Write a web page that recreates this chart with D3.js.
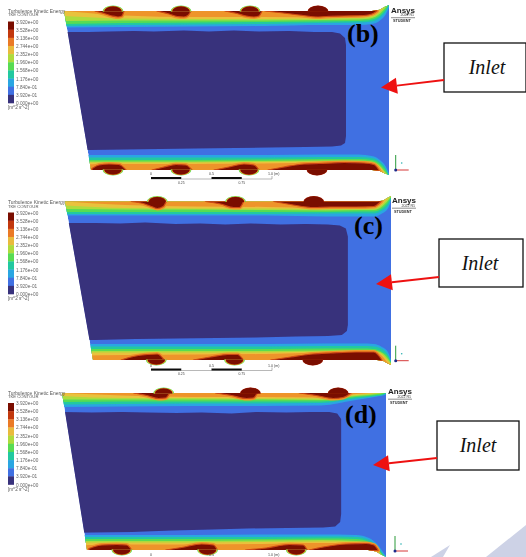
<!DOCTYPE html>
<html><head><meta charset="utf-8">
<script src="https://cdn.jsdelivr.net/npm/d3@7"></script>
<style>html,body{margin:0;padding:0;background:#fff}svg{display:block}</style>
</head><body><svg id="c" width="526" height="557"></svg>
<script>
// ---------- legend ----------
const legendLabels=["3.920e+00","3.528e+00","3.136e+00","2.744e+00","2.352e+00","1.960e+00","1.568e+00","1.176e+00","7.840e-01","3.920e-01","0.000e+00"];
const legendColors=["#7a0f06","#c2380d","#ea7a28","#e9bb3c","#aedb3e","#58dc52","#22c9a0","#2aa6e2","#3f6fe2","#38307c"];
const legendTitle="Turbulence Kinetic Energy";
const legendSub="TKE CONTOUR";
const legendUnit="[m^2 s^-2]";
const panelNames=["(b)","(c)","(d)"];
const inletLabel="Inlet";
const scaleTop=["0","0.5","1.0 (m)"];
const scaleBottom=["0.25","0.75"];
// ---------- axial stations of the contour boundaries ----------
const stations=[0,60,130,200,260,295,308,316,322,326];
// distance from wall of each contour edge: light blue, teal, green, yellow-green, yellow, orange
const bTopBands=[[16.5,16,15.5,15,14,14,13,9.5,3,-6],[15,14,13.5,13,12,11.5,10.5,6.5,0,-8],[13,12,11.5,11,10.5,10,8.5,4.5,-2,-8],[10,9.5,9.5,9.5,9,8.5,7,2.5,-4,-8],[5,7.5,8,8,7.5,7,5.5,0.5,-6,-8],[0,4.5,6,6,6.5,6,4,-1.5,-8,-8]];
const bBottomBands=[[15,15,15,15,15.5,15.5,14,10,3,-6],[12.5,12.5,12.5,12.5,13,13,12,8,1,-8],[10,10,10,10.5,11,11,10,6,-1,-8],[8.5,8.5,8.5,9,9.5,9.5,8.5,4,-3,-8],[7.5,7.5,7.5,8,8.5,8.5,7.5,3,-4,-8],[5,6,6,6.5,7.5,8,6.5,1.5,-6,-8]];
const cTopBands=[[14,14,14,14,15,15,15,12,7,-5],[12.5,12.5,12.5,12.5,12,12,12,9,4,-6],[10.5,10.5,10.5,10.5,10.5,10,10,7,1,-6],[7.5,8,8,8.5,9,8.5,8.5,5,-1,-6],[4,6.5,7,7,7.5,7,7,3,-3,-6],[0,3.5,5,5.5,6.5,6,6,1.5,-5,-6]];
const cBottomBands=[[16,16,16,16,16.5,16.5,16,13,8,-4],[13.5,13.5,13.5,13.5,14,14,13.5,11,5,-5],[11,11,11,11,11.5,11.5,11,8,3,-5],[9,9,9,9,9.5,10,9.5,7,1,-5],[7.5,7.5,7.5,7.5,8.5,8.5,8.5,5.5,-1,-5],[4,5,5.5,6,7.5,8,8,4,-3,-5]];
const dTopBands=[[14,13.5,13,13,12.5,7,5,3.5,2.5,1],[11.5,11,10.5,10.5,10,5.5,4,3,2,0],[9,8.5,8.5,8.5,8.5,4,3,2,1,-1],[6.5,6.5,6.5,6.5,7,3,2,1,0,-2],[3,5,5,5.5,5.5,2,1,0,-1,-2],[0,2.5,4,4,4.5,1,0,-1,-2,-2]];
const dBottomBands=[[15,15,15,15.5,15.5,15,12,6,-2,-8],[13,13,13,13,13.5,13,10,4,-4,-8],[11,11,11,11,11.5,11,8,2.5,-5,-8],[9,9,9,9.5,10,9,6.5,1,-6,-8],[7.5,7.5,7.5,8,8.5,8,5,0,-7,-8],[4,5.5,5.5,6,7,6.5,3.5,-1,-8,-8]];
// hot streaks along the walls: [axial, thickness]
const bTopHot=[[[31,0],[40,2.5],[48,5],[54,6],[58,5],[60,0]],[[93,0],[105,3],[113,5.5],[120,6],[124,4.5],[127,0]],[[161,0],[173,2.5],[182,5],[190,6],[195,5],[198,0]],[[201,0],[215,1.5],[235,4],[254,6],[262,5.5],[280,5],[300,4.5],[308,3],[313,0]]];
const bBottomHot=[[[28,1.5],[35,5],[45,6],[55,5.5],[62,0]],[[88,0],[100,3],[112,5.5],[122,5],[128,0]],[[150,0],[165,3],[180,6],[190,5],[195,0]],[[204,0],[220,3],[240,6],[255,6.5],[280,7.5],[300,7],[310,5.5],[315,0]]];
const cTopHot=[[[66,0],[78,2],[86,5],[92,7],[98,5],[101,0]],[[140,0],[155,2.5],[168,6],[174,6],[178,0]],[[208,0],[225,3],[248,6],[265,5.5],[290,5.5],[308,5],[315,0]]];
const cBottomHot=[[[56,0],[68,3.5],[82,5.5],[92,6],[99,0]],[[128,0],[145,3],[162,5.5],[172,5.5],[178,0]],[[205,0],[225,3],[247,6],[265,7],[290,8],[308,8],[316,0]]];
const dTopHot=[[[72,0],[85,2.5],[97,5.5],[104,5],[108,0]],[[154,0],[170,2.5],[185,5.5],[192,5],[196,0]],[[238,0],[255,2.5],[272,5.5],[282,4.5],[290,0]]];
const dBottomHot=[[[27,1.5],[40,5],[55,5.5],[65,5],[70,0]],[[104,0],[120,2.5],[140,6],[152,5],[156,0]],[[184,0],[205,2],[228,5.5],[242,5],[246,0]],[[248,0],[265,3.5],[285,6],[305,6.5],[313,5],[317,0]]];
// domes on the walls
const bTopDomes=[49,117,186,254], bTopRims=[1,1,1,0];
const bBottomDomes=[49,117,185,253], bBottomRims=[1,1,1,0];
const cTopDomes=[92,170,248], cTopRims=[1,1,0];
const cBottomDomes=[91,169,247], cBottomRims=[1,1,0];
const dTopDomes=[102,189,277], dTopRims=[1,0,0];
const dBottomDomes=[60,146,235], dBottomRims=[1,1,1];
// low-energy core boundary: [axial, distance from wall]
const bCoreTop=[[0,21],[25,21],[45,20.5],[70,20],[90,20.5],[120,19.5],[145,20.5],[170,19.5],[195,20.5],[225,20],[250,21],[268,21],[276,22.5],[281,27],[282,34]];
const bCoreBottom=[[282,34],[281,27],[277,24.5],[268,23.5],[240,23],[205,22.5],[170,22],[130,21.5],[95,21],[60,20.5],[25,20],[0,20]];
const cCoreTop=[[0,21.5],[30,21.5],[55,22],[80,21],[110,22.5],[135,22],[160,23],[185,22],[215,23],[240,22.5],[262,23],[274,24],[280,27],[282,35]];
const cCoreBottom=[[282,35],[281,29],[276,25],[262,24],[230,23.5],[190,22.5],[150,22],[110,21.5],[70,21],[30,20],[0,20]];
const dCoreTop=[[0,19],[30,19.5],[60,19],[85,19.5],[115,20],[140,19.5],[170,20.5],[195,19],[225,19.5],[250,19],[268,19],[276,20.5],[280,26],[280,36]];
const dCoreBottom=[[280,36],[279,28],[274,23.5],[262,22.5],[225,22],[185,21.5],[150,20.5],[110,19.5],[70,18],[30,17.5],[0,17]];
// watermark
const watermark=[[[450,545],[431,557],[443,557]],[[526,525],[486,557],[526,557]]];

// ---------- layout ----------
const layout=[
 {left:64,leftBottom:91,right:389,wallTop:11,wallBottom:170,flareTop:5,flareBottom:175,flareStart:372,
  top:bTopBands,bottom:bBottomBands,topHot:bTopHot,bottomHot:bBottomHot,topDomes:bTopDomes,topRims:bTopRims,bottomDomes:bBottomDomes,bottomRims:bBottomRims,coreTop:bCoreTop,coreBottom:bCoreBottom,
  legendY:21.5,titleY:12.5,nameX:347,nameY:42,logoX:391,logoY:12.5,triadX:395.7,triadY:170,bar:178,
  box:[444,43,82,49],textX:487,textY:74,arrow:[444,80,381,87.6]},
 {left:65,leftBottom:93,right:391,wallTop:201.5,wallBottom:360,flareTop:196,flareBottom:365,flareStart:377,
  top:cTopBands,bottom:cBottomBands,topHot:cTopHot,bottomHot:cBottomHot,topDomes:cTopDomes,topRims:cTopRims,bottomDomes:cBottomDomes,bottomRims:cBottomRims,coreTop:cCoreTop,coreBottom:cCoreBottom,
  legendY:212.5,titleY:204,nameX:354,nameY:234,logoX:392,logoY:203,triadX:395.7,triadY:360.7,bar:369.5,
  box:[439,239,84,48],textX:480,textY:270,arrow:[439,277,376,284]},
 {left:62,leftBottom:87,right:386,wallTop:393,wallBottom:550,flareTop:393,flareBottom:557,flareStart:368,
  top:dTopBands,bottom:dBottomBands,topHot:dTopHot,bottomHot:dBottomHot,topDomes:dTopDomes,topRims:dTopRims,bottomDomes:dBottomDomes,bottomRims:dBottomRims,coreTop:dCoreTop,coreBottom:dCoreBottom,
  legendY:403,titleY:394.5,nameX:345,nameY:423,logoX:388,logoY:394,triadX:395,triadY:551,bar:559,
  box:[437,421,82,49],textX:478,textY:452,arrow:[437,458,373,465]}
];
const bandColors=["#2aa6e2","#22c9a0","#58dc52","#aedb3e","#e9c23c","#ee942c"];
const svg=d3.select("#c");
const defs=svg.append("defs");
defs.append("filter").attr("id","soft").attr("x","-5%").attr("y","-5%").attr("width","110%").attr("height","110%")
  .append("feGaussianBlur").attr("stdDeviation",0.6);
defs.append("filter").attr("id","softText").attr("x","-10%").attr("y","-20%").attr("width","120%").attr("height","140%")
  .append("feGaussianBlur").attr("stdDeviation",0.3);

// watermark
svg.append("g").selectAll("path").data(watermark).join("path")
  .attr("d",d=>d3.line()(d)+"Z").attr("fill","#cdd2e6");

layout.forEach((p,pi)=>{
  const span=p.wallBottom-p.wallTop;
  const x=d3.scaleLinear().domain([0,stations[stations.length-1]-1]).range([p.left,p.right]);
  const yT=d3.scaleLinear().domain([0,span]).range([p.wallTop,p.wallBottom]);
  const yB=d3.scaleLinear().domain([0,span]).range([p.wallBottom,p.wallTop]);
  const id="clip"+pi;
  const f=p.flareStart, r=p.right;
  const outline=[[p.left,p.wallTop],[f,p.wallTop],[f+(r-f)*.45,p.wallTop-(p.wallTop-p.flareTop)*.2],[f+(r-f)*.72,p.wallTop-(p.wallTop-p.flareTop)*.65],[r,p.flareTop],
    [r,p.flareBottom],[f+(r-f)*.72,p.wallBottom+(p.flareBottom-p.wallBottom)*.65],[f+(r-f)*.45,p.wallBottom+(p.flareBottom-p.wallBottom)*.2],[f,p.wallBottom],[p.leftBottom,p.wallBottom]];
  const outlinePath=d3.line()(outline)+"Z";
  defs.append("clipPath").attr("id",id).append("path").attr("d",outlinePath);
  const g=svg.append("g").attr("filter","url(#soft)");
  const field=g.append("g").attr("clip-path",`url(#${id})`);
  field.append("path").attr("d",outlinePath).attr("fill","#3f6fe2");
  // core
  const corePts=p.coreTop.map(d=>[x(d[0]),yT(d[1])]).concat(p.coreBottom.map(d=>[x(d[0]),yB(d[1])]));
  field.append("path").attr("d",d3.line().curve(d3.curveLinear)(corePts)+"Z").attr("fill","#38307c");
  // wall bands
  [[p.top,yT,p.topHot],[p.bottom,yB,p.bottomHot]].forEach(([rows,y,hot])=>{
    rows.forEach((row,i)=>{
      const area=d3.area().curve(d3.curveMonotoneX)
        .x((d,j)=>x(stations[j])).y0(y(-12)).y1(d=>y(d));
      field.append("path").attr("d",area(row)).attr("fill",bandColors[i]);
    });
    const hotArea=d3.area().curve(d3.curveMonotoneX).x(d=>x(d[0])).y0(y(-0.5)).y1(d=>y(d[1]));
    hot.forEach(s=>{
      field.append("path").attr("d",hotArea(s)).attr("fill","#ee942c")
        .attr("stroke","#ee942c").attr("stroke-width",4).attr("stroke-linejoin","round");
    });
    hot.forEach(s=>{
      field.append("path").attr("d",hotArea(s)).attr("fill","#7a0f06")
        .attr("stroke","#cf4a12").attr("stroke-width",1.2).attr("stroke-linejoin","round");
    });
  });
  // domes
  const half=d3.arc().innerRadius(0).outerRadius(1).startAngle(-Math.PI/2).endAngle(Math.PI/2);
  [[p.topDomes,p.topRims,p.wallTop,1],[p.bottomDomes,p.bottomRims,p.wallBottom,-1]].forEach(([ds,rims,wy,dir])=>{
    ds.forEach((a,i)=>{
      const layers=rims[i]?[["#58dc52",1],["#e9c83c",.93],["#c2380d",.86],["#7a0f06",.82]]:[["#a81f08",1],["#7a0f06",.95]];
      layers.forEach(([c,k])=>{
        g.append("path").attr("d",half())
          .attr("transform",`translate(${x(a)},${wy+dir*.5}) scale(${10.5*k},${dir*6*k})`)
          .attr("fill",c);
      });
    });
  });
  // legend
  const ly=p.legendY;
  const band=d3.scaleBand().domain(legendColors).range([ly,ly+81.5]);
  const tk=d3.scalePoint().domain(legendLabels).range([ly,ly+81.5]);
  const leg=svg.append("g").attr("filter","url(#softText)");
  leg.selectAll("rect").data(legendColors).join("rect")
    .attr("x",8).attr("width",6).attr("y",d=>band(d)).attr("height",band.bandwidth()+.3).attr("fill",d=>d);
  const ax=d3.axisRight(tk).tickSize(0).tickPadding(2);
  const axg=leg.append("g").attr("transform","translate(14,0)").call(ax);
  axg.select(".domain").remove();
  axg.selectAll("text").attr("font-family","Liberation Sans").attr("font-size",4.7).attr("fill","#666");
  const t=(parent,s,xx,yy,size,extra={})=>{
    const e=parent.append("text").attr("x",xx).attr("y",yy).attr("font-size",size).attr("font-family",extra.family||"Liberation Sans").attr("fill",extra.fill||"#555").text(s);
    if(extra.weight)e.attr("font-weight",extra.weight);
    if(extra.style)e.attr("font-style",extra.style);
    if(extra.anchor)e.attr("text-anchor",extra.anchor);
    return e;
  };
  t(leg,legendTitle,8,p.titleY,4.9);
  t(leg,legendSub,8,p.titleY+3.8,4.2);
  t(leg,legendUnit,8,ly+87.5,4.6);
  // panel name
  t(svg,panelNames[pi],p.nameX,p.nameY,26,{family:"Liberation Serif",weight:"bold",fill:"#000"});
  // logo
  const lg=svg.append("g").attr("filter","url(#softText)");
  t(lg,"Ansys",p.logoX,p.logoY,8,{weight:"bold",fill:"#222"});
  t(lg,"2022 R1",p.logoX+23,p.logoY+3.5,3.6,{anchor:"end",fill:"#333"});
  lg.append("line").attr("x1",p.logoX).attr("x2",p.logoX+24).attr("y1",p.logoY+5.2).attr("y2",p.logoY+5.2).attr("stroke","#444").attr("stroke-width",.6);
  t(lg,"STUDENT",p.logoX+2,p.logoY+9.5,3.8,{weight:"bold",fill:"#333"});
  // triad
  const tr=svg.append("g").attr("filter","url(#softText)");
  tr.append("line").attr("x1",p.triadX).attr("x2",p.triadX).attr("y1",p.triadY).attr("y2",p.triadY-15).attr("stroke","#2d9a3a").attr("stroke-width",1);
  tr.append("line").attr("x1",p.triadX).attr("x2",p.triadX+13).attr("y1",p.triadY).attr("y2",p.triadY).attr("stroke","#d63a3a").attr("stroke-width",1);
  tr.append("circle").attr("cx",p.triadX).attr("cy",p.triadY).attr("r",1.5).attr("fill","#1a2a8a");
  tr.append("circle").attr("cx",p.triadX+6).attr("cy",p.triadY-7).attr("r",.8).attr("fill","#2ab0b0");
  // scale bar
  const sx=d3.scalePoint().domain([0,1,2,3,4]).range([151,272]);
  const sb=svg.append("g").attr("filter","url(#softText)");
  sb.append("line").attr("x1",sx(0)).attr("x2",sx(4)).attr("y1",p.bar+1).attr("y2",p.bar+1).attr("stroke","#888").attr("stroke-width",.6);
  sb.append("line").attr("x1",sx(4)).attr("x2",sx(4)).attr("y1",p.bar+1).attr("y2",p.bar-2).attr("stroke","#888").attr("stroke-width",.6);
  [0,2].forEach(i=>sb.append("rect").attr("x",sx(i)).attr("y",p.bar-1).attr("width",sx(i+1)-sx(i)).attr("height",2).attr("fill","#111"));
  scaleTop.forEach((s,i)=>t(sb,s,sx(i*2)+(i==2?-4:0),p.bar-3,3.6,{fill:"#444",anchor:i==2?"start":"middle"}));
  if(p.bar+5.5<557) scaleBottom.forEach((s,i)=>t(sb,s,sx(i*2+1),p.bar+5.5,3.4,{fill:"#444",anchor:"middle"}));
  // inlet box and arrow
  svg.append("rect").attr("x",p.box[0]).attr("y",p.box[1]).attr("width",p.box[2]).attr("height",p.box[3])
    .attr("fill","#fff").attr("stroke","#111").attr("stroke-width",1.3);
  t(svg,inletLabel,p.textX,p.textY,20,{family:"Liberation Serif",style:"italic",fill:"#111",anchor:"middle"});
  const [ax0,ay0,ax1,ay1]=p.arrow;
  const ang=Math.atan2(ay0-ay1,ax0-ax1);
  const bx=ax1+16*Math.cos(ang), by=ay1+16*Math.sin(ang);
  svg.append("line").attr("x1",ax0).attr("y1",ay0).attr("x2",bx).attr("y2",by).attr("stroke","#ee1111").attr("stroke-width",1.8);
  svg.append("path").attr("d",d3.line()([[ax1,ay1],[bx-8*Math.sin(ang),by+8*Math.cos(ang)],[bx+8*Math.sin(ang),by-8*Math.cos(ang)]])+"Z").attr("fill","#ee1111");
});
</script></body></html>
